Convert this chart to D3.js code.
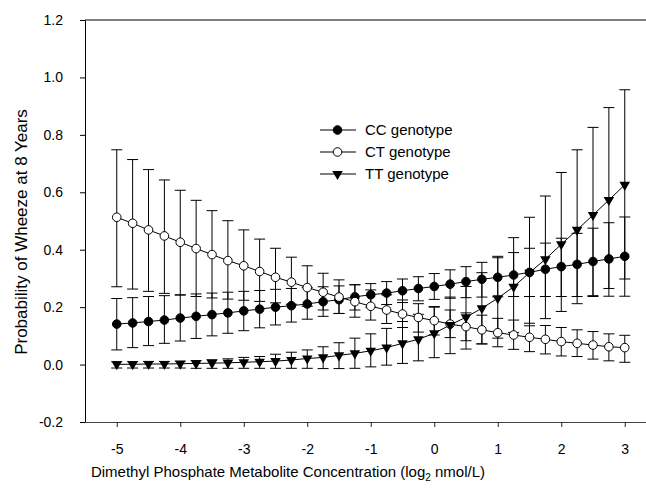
<!DOCTYPE html>
<html>
<head>
<meta charset="utf-8">
<script src="https://cdn.jsdelivr.net/npm/d3@7"></script>
<style>
  html, body { margin: 0; padding: 0; background: #fff; }
  svg { display: block; font-family: Arial, "Liberation Sans", sans-serif; }
</style>
</head>
<body>
<svg id="chart" width="646" height="493"></svg>
<script>
// ---- data ----
const xs = [-5, -4.75, -4.5, -4.25, -4, -3.75, -3.5, -3.25, -3, -2.75, -2.5, -2.25, -2, -1.75, -1.5, -1.25,
            -1, -0.75, -0.5, -0.25, 0, 0.25, 0.5, 0.75, 1, 1.25, 1.5, 1.75, 2, 2.25, 2.5, 2.75, 3];

const ccMean = [0.141, 0.145, 0.150, 0.155, 0.162, 0.168, 0.174, 0.180, 0.187, 0.193, 0.200, 0.205, 0.211, 0.219, 0.226, 0.236,
                0.243, 0.249, 0.257, 0.265, 0.272, 0.280, 0.289, 0.297, 0.304, 0.312, 0.321, 0.332, 0.341, 0.349, 0.359, 0.368, 0.377];
const ccLow  = [0.051, 0.059, 0.066, 0.074, 0.082, 0.091, 0.100, 0.109, 0.118, 0.128, 0.138, 0.148, 0.158, 0.168, 0.178, 0.190,
                0.200, 0.209, 0.216, 0.222, 0.227, 0.231, 0.233, 0.235, 0.236, 0.237, 0.237, 0.237, 0.237, 0.237, 0.237, 0.238, 0.238];
const ccHigh = [0.230, 0.233, 0.237, 0.240, 0.243, 0.246, 0.249, 0.252, 0.255, 0.258, 0.262, 0.265, 0.268, 0.271, 0.274, 0.278,
                0.282, 0.289, 0.298, 0.306, 0.317, 0.330, 0.341, 0.356, 0.372, 0.390, 0.405, 0.423, 0.440, 0.457, 0.475, 0.494, 0.514];

const ctMean = [0.513, 0.492, 0.469, 0.448, 0.426, 0.404, 0.383, 0.362, 0.344, 0.324, 0.304, 0.287, 0.268, 0.252, 0.235, 0.219,
                0.203, 0.190, 0.176, 0.164, 0.153, 0.141, 0.132, 0.121, 0.111, 0.103, 0.095, 0.088, 0.080, 0.074, 0.068, 0.062, 0.059];
const ctLow  = [0.271, 0.263, 0.255, 0.248, 0.242, 0.237, 0.232, 0.228, 0.224, 0.220, 0.215, 0.210, 0.203, 0.190, 0.178, 0.165,
                0.155, 0.143, 0.129, 0.113, 0.103, 0.094, 0.083, 0.072, 0.062, 0.053, 0.045, 0.037, 0.030, 0.028, 0.019, 0.013, 0.008];
const ctHigh = [0.748, 0.714, 0.679, 0.643, 0.607, 0.572, 0.536, 0.501, 0.469, 0.437, 0.405, 0.374, 0.344, 0.318, 0.295, 0.278,
                0.260, 0.243, 0.225, 0.212, 0.200, 0.190, 0.180, 0.172, 0.161, 0.155, 0.144, 0.136, 0.129, 0.121, 0.115, 0.107, 0.102];

const ttMean = [0.001, 0.001, 0.002, 0.002, 0.003, 0.004, 0.005, 0.006, 0.008, 0.010, 0.012, 0.016, 0.021, 0.025, 0.032, 0.039,
                0.048, 0.059, 0.074, 0.088, 0.109, 0.138, 0.165, 0.196, 0.231, 0.271, 0.320, 0.367, 0.419, 0.469, 0.521, 0.573, 0.626];
const ttLow  = [-0.012, -0.012, -0.012, -0.012, -0.012, -0.013, -0.013, -0.013, -0.013, -0.013, -0.013, -0.013, -0.013, -0.014, -0.014, -0.013,
                -0.008, -0.002, 0.004, 0.013, 0.024, 0.038, 0.054, 0.072, 0.092, 0.112, 0.135, 0.160, 0.185, 0.212, 0.240, 0.265, 0.298];
const ttHigh = [0.010, 0.010, 0.011, 0.011, 0.012, 0.014, 0.017, 0.020, 0.025, 0.028, 0.036, 0.043, 0.051, 0.062, 0.076, 0.092,
                0.107, 0.126, 0.150, 0.175, 0.202, 0.235, 0.272, 0.320, 0.377, 0.442, 0.513, 0.587, 0.669, 0.748, 0.826, 0.895, 0.957];

const seriesNames = ["CC genotype", "CT genotype", "TT genotype"];
const xTicks = [-5, -4, -3, -2, -1, 0, 1, 2, 3];
const yTicks = [-0.2, 0.0, 0.2, 0.4, 0.6, 0.8, 1.0, 1.2];

// ---- layout ----
const svg = d3.select("#chart");
const x = d3.scaleLinear().domain([-5.5, 3.5]).range([85, 656.5]);
const y = d3.scaleLinear().domain([-0.2, 1.2]).range([422, 20]);

const series = [
  { name: seriesNames[0], mean: ccMean, low: ccLow, high: ccHigh, marker: "filled" },
  { name: seriesNames[1], mean: ctMean, low: ctLow, high: ctHigh, marker: "open" },
  { name: seriesNames[2], mean: ttMean, low: ttLow, high: ttHigh, marker: "tri" }
];

// frame line on top
svg.append("line").attr("x1", x(-5.5)).attr("x2", 646).attr("y1", y(1.2)).attr("y2", y(1.2))
  .attr("stroke", "#000").attr("stroke-width", 1);

// axes
const xAxis = d3.axisBottom(x).tickValues(xTicks).tickSize(5).tickSizeOuter(0).tickFormat(d3.format("d"));
const gx = svg.append("g").attr("transform", `translate(0,${y(-0.2)})`).call(xAxis);
gx.select(".domain").attr("stroke", "#444");
gx.selectAll(".tick line").attr("stroke", "#222");
gx.selectAll("text").attr("font-size", 14).attr("fill", "#000").attr("dy", "1.72em")
  .text(d => d < 0 ? "-" + Math.abs(d) : d);

const yAxis = d3.axisLeft(y).tickValues(yTicks).tickSize(5).tickSizeOuter(0).tickFormat(d3.format(".1f"));
const gy = svg.append("g").attr("transform", `translate(${x(-5.5)},0)`).call(yAxis);
gy.select(".domain").attr("stroke", "#000");
gy.selectAll(".tick line").attr("stroke", "#000");
gy.selectAll("text").attr("font-size", 14).attr("fill", "#000").attr("x", -22)
  .text(d => d3.format(".1f")(d).replace("−", "-"));

// error bars
const capHalf = 5.5;
series.forEach(s => {
  const g = svg.append("g");
  xs.forEach((xv, i) => {
    const cx = x(xv);
    g.append("line").attr("x1", cx).attr("x2", cx).attr("y1", y(s.low[i])).attr("y2", y(s.high[i]))
      .attr("stroke", "#000").attr("stroke-width", 1);
    [s.low[i], s.high[i]].forEach(v => {
      g.append("line").attr("x1", cx - capHalf).attr("x2", cx + capHalf).attr("y1", y(v)).attr("y2", y(v))
        .attr("stroke", "#000").attr("stroke-width", 1);
    });
  });
});

// lines
const line = d3.line().x(d => x(d[0])).y(d => y(d[1]));
series.forEach(s => {
  svg.append("path").datum(xs.map((xv, i) => [xv, s.mean[i]]))
    .attr("d", line).attr("fill", "none").attr("stroke", "#000").attr("stroke-width", 1);
});

// markers
const triPath = d3.symbol().type(d3.symbolTriangle).size(48)();
function drawMarker(g, type, cx, cy) {
  if (type === "tri") {
    g.append("path").attr("d", triPath).attr("transform", `translate(${cx},${cy}) rotate(180)`)
      .attr("fill", "#000");
  } else {
    g.append("circle").attr("cx", cx).attr("cy", cy).attr("r", 4.3)
      .attr("fill", type === "filled" ? "#000" : "#fff").attr("stroke", "#000").attr("stroke-width", 1);
  }
}
series.forEach(s => {
  const g = svg.append("g");
  xs.forEach((xv, i) => drawMarker(g, s.marker, x(xv), y(s.mean[i])));
});

// legend
const legendY = [130, 152, 174];
series.forEach((s, i) => {
  const g = svg.append("g");
  g.append("line").attr("x1", 320).attr("x2", 356).attr("y1", legendY[i]).attr("y2", legendY[i])
    .attr("stroke", "#000").attr("stroke-width", 1);
  drawMarker(g, s.marker, 337.5, legendY[i]);
  g.append("text").attr("x", 365).attr("y", legendY[i] + 5).attr("font-size", 15).attr("fill", "#000")
    .text(s.name);
});

// axis titles
const xt = svg.append("text").attr("x", 288).attr("y", 477).attr("text-anchor", "middle")
  .attr("font-size", 15).attr("fill", "#000");
xt.append("tspan").text("Dimethyl Phosphate Metabolite Concentration (log");
xt.append("tspan").attr("font-size", 10).attr("dy", 4).text("2");
xt.append("tspan").attr("dy", -4).text(" nmol/L)");

svg.append("text").attr("transform", "translate(27,232) rotate(-90)").attr("text-anchor", "middle")
  .attr("font-size", 17).attr("fill", "#000").text("Probability of Wheeze at 8 Years");
</script>
</body>
</html>
